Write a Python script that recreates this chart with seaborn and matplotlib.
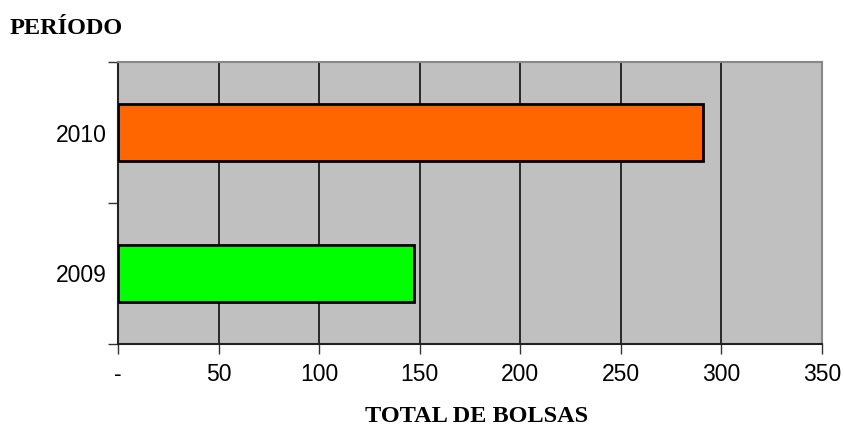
import matplotlib
matplotlib.use("Agg")
import matplotlib.pyplot as plt
import seaborn as sns
import pandas as pd

# Data
periods = ["2010", "2009"]
totals = [291, 147]
bar_colors = ["#FF6600", "#00FF00"]
x_ticks = [0, 50, 100, 150, 200, 250, 300, 350]
x_labels = ["-", "50", "100", "150", "200", "250", "300", "350"]

df = pd.DataFrame({"periodo": periods, "total": totals})

sns.set_style("white")
plt.rcParams["font.family"] = ["Liberation Sans", "DejaVu Sans"]
plt.rcParams["text.color"] = "black"
plt.rcParams["xtick.color"] = "black"
plt.rcParams["ytick.color"] = "black"
plt.rcParams["xtick.labelcolor"] = "black"
plt.rcParams["ytick.labelcolor"] = "black"

fig = plt.figure(figsize=(8.45, 4.32), dpi=100)
ax = fig.add_axes([118 / 845, 1 - 344 / 432, 704 / 845, 282 / 432])
ax.set_facecolor("#C0C0C0")

sns.barplot(data=df, x="total", y="periodo", hue="periodo", order=periods,
            hue_order=periods, palette=bar_colors, saturation=1, orient="h",
            width=0.4, edgecolor="black", linewidth=2, legend=False, ax=ax,
            zorder=3)

ax.set_xlim(0, 350)
ax.set_ylim(1.5, -0.5)

# vertical gridlines
ax.set_xticks(x_ticks)
ax.set_xticklabels(x_labels, fontsize=16.5)
for v in x_ticks[1:-1]:
    ax.axvline(v, color="black", lw=1.1, zorder=1)

ax.tick_params(axis="x", direction="out", length=7, width=1, color="#333333",
               pad=7, bottom=True)
ax.tick_params(axis="y", which="major", length=0, labelsize=16.5, pad=8)
ax.set_yticks([-0.5, 0.5, 1.5], minor=True)
ax.tick_params(axis="y", which="minor", direction="out", length=7, width=1,
               color="#333333", left=True)

for side in ["left", "bottom"]:
    ax.spines[side].set_color("#222222")
    ax.spines[side].set_linewidth(1.5)
for side in ["top", "right"]:
    ax.spines[side].set_color("#888888")
    ax.spines[side].set_linewidth(1.5)

ax.set_xlabel("")
ax.set_ylabel("")

fig.text(10 / 845, 1 - 28 / 432, "PERÍODO", fontsize=17.5, fontweight="bold",
         family=["Liberation Serif", "DejaVu Serif"], ha="left", va="center")
fig.text(477 / 845, 1 - 417 / 432, "TOTAL DE BOLSAS", fontsize=17.5,
         fontweight="bold", family=["Liberation Serif", "DejaVu Serif"],
         ha="center", va="center")

fig.savefig("out.png", dpi=100)
